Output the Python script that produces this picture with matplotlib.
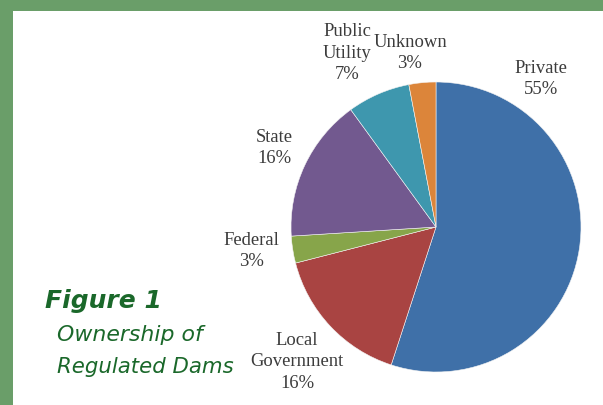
import matplotlib
matplotlib.use("Agg")
import matplotlib.pyplot as plt
from matplotlib.patches import Rectangle

# ---- data ----
categories = ["Private", "Local\nGovernment", "Federal", "State", "Public\nUtility", "Unknown"]
shares = [55, 16, 3, 16, 7, 3]
colors = ["#3f70a8", "#a94442", "#87a54a", "#72598f", "#3e97ae", "#dc853a"]

# label centres in pixel coordinates (x from left, y from top)
label_pos = [(541, 79), (297, 362), (251, 251), (274, 148), (347, 53), (410, 53)]

W, H = 603, 405
fig = plt.figure(figsize=(W / 100, H / 100), dpi=100, facecolor="#6a9e69")
ax = fig.add_axes([0, 0, 1, 1])

# white panel
ax.add_patch(Rectangle((13, 0), W - 13, H - 11, facecolor="white", edgecolor="none", zorder=0))

# pie
ax.pie(shares, colors=colors, startangle=90, counterclock=False,
       center=(436, H - 227), radius=145, frame=True,
       wedgeprops=dict(edgecolor="#f4f4f4", linewidth=0.4))
ax.set_xlim(0, W)
ax.set_ylim(0, H)
ax.set_aspect("auto")
ax.axis("off")

for cat, val, (px, py) in zip(categories, shares, label_pos):
    ax.text(px, H - py, f"{cat}\n{val}%", ha="center", va="center",
            family="Liberation Serif", fontsize=13.4, color="#3c3c3c",
            linespacing=1.32, zorder=5)

green = "#1a682a"
ax.text(45, H - 301, "Figure 1", ha="left", va="center", family="DejaVu Sans",
        style="italic", weight="bold", fontsize=18, color=green)
ax.text(57, H - 335, "Ownership of", ha="left", va="center", family="DejaVu Sans",
        style="italic", fontsize=15.8, color=green)
ax.text(57, H - 367, "Regulated Dams", ha="left", va="center", family="DejaVu Sans",
        style="italic", fontsize=15.3, color=green)

fig.savefig("out.png", dpi=100, facecolor=fig.get_facecolor())
